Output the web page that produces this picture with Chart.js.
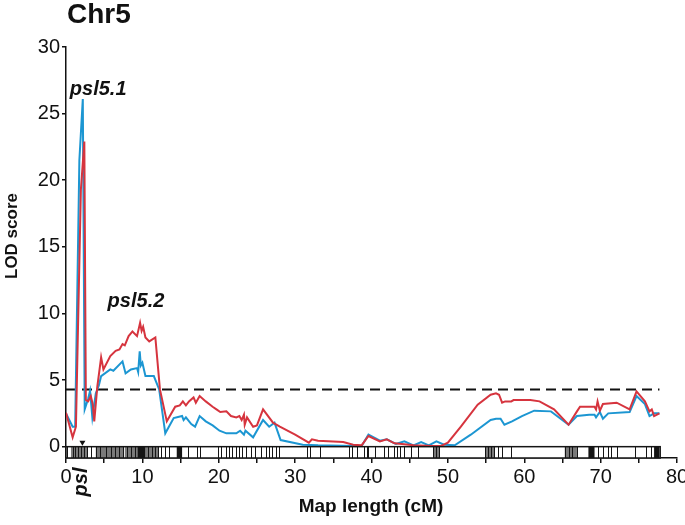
<!DOCTYPE html>
<html>
<head>
<meta charset="utf-8">
<style>
  body { margin: 0; background: #fff; }
  canvas { display: block; }
</style>
</head>
<body>
<canvas id="lodChart" width="685" height="525"></canvas>

<script src="https://cdn.jsdelivr.net/npm/chart.js"></script>
<script>
    // LOD profile, red trait (cM positions and scores)
    const redCM  = [0, 0.87, 1.3, 1.95, 2.4, 2.6, 2.9, 3.25, 3.5, 3.7, 4.1, 4.6, 4.9, 5.8, 6.5, 7.0, 7.4, 7.7, 8.2, 8.7, 9.3, 9.7, 9.9, 10.1, 10.4, 10.9, 11.7,
                    12.3, 13.2, 14.3, 14.9, 15.3, 15.7, 16.1, 16.7, 17.0, 17.5, 18.3, 19.2, 19.7, 20.2, 21.0, 21.6, 22.3, 22.7, 23.0, 23.3, 23.4, 23.7, 24.5, 25.0, 25.8, 27.1, 28.0, 30.0,
                    31.8, 32.2, 33.0, 36.3, 37.6, 38.7, 39.6, 41.1, 42.0, 43.0, 44.0, 45.5, 48.0, 49.1, 50.0, 51.7, 53.9, 55.6, 56.3, 56.7, 57.1, 57.5, 58.3, 58.6, 60.8, 62.0,
                    63.9, 65.8, 66.9, 67.3, 69.2, 69.4, 69.6, 69.9, 70.3, 72.1, 73.8, 74.7, 75.8, 76.4, 76.7, 77.0, 77.7];
    const redLOD = [2.55, 0.7, 1.5, 19.3, 22.9, 3.5, 3.4, 3.8, 3.2, 1.9, 4.5, 6.7, 5.8, 6.8, 7.2, 7.3, 7.7, 7.6, 8.3, 8.65, 8.3, 9.3, 8.7, 9.0, 8.2, 7.9, 8.2,
                    4.3, 1.9, 3.0, 3.1, 3.4, 3.1, 3.4, 3.7, 3.3, 3.8, 3.4, 3.0, 2.8, 2.6, 2.65, 2.3, 2.2, 2.3, 2.0, 2.4, 1.65, 2.2, 1.5, 1.6, 2.8, 1.8, 1.5, 0.9,
                    0.3, 0.55, 0.45, 0.35, 0.15, 0.1, 0.8, 0.4, 0.55, 0.25, 0.2, 0.1, 0.05, 0.05, 0.3, 1.5, 3.15, 3.9, 4.0, 3.9, 3.3, 3.4, 3.4, 3.5, 3.5, 3.4,
                    2.8, 1.65, 2.65, 3.0, 3.0, 2.8, 3.4, 2.7, 3.2, 3.3, 2.8, 4.15, 3.4, 2.65, 2.8, 2.3, 2.5];

    // LOD profile, blue trait
    const blueCM  = [0, 0.87, 1.2, 1.75, 2.2, 2.45, 2.9, 3.15, 3.45, 3.9, 4.3, 4.6, 5.8, 6.2, 7.4, 7.8, 8.5, 9.3, 9.45, 9.65, 9.8, 10.0, 10.4, 11.5,
                     12.2, 13.0, 14.1, 15.2, 15.4, 15.7, 16.4, 16.9, 17.5, 18.3, 19.2, 20.1, 21.0, 22.3, 22.8, 23.3, 23.5, 24.5, 25.8, 26.6, 27.3, 28.1, 31.0, 33.0,
                     37.6, 38.7, 39.6, 41.1, 42.0, 43.2, 44.3, 45.5, 46.5, 47.5, 48.5, 49.5, 50.9, 53.0, 55.6, 56.3, 56.9, 57.4, 58.4, 59.7, 61.3, 63.5,
                     65.8, 66.9, 68.5, 69.2, 69.4, 69.9, 70.3, 71.0, 73.8, 74.7, 75.8, 76.4, 77.0, 77.7];
    const blueLOD = [2.5, 1.5, 1.5, 21.5, 26.1, 2.8, 3.6, 4.2, 2.2, 4.0, 4.6, 5.3, 5.8, 5.7, 6.4, 5.5, 5.8, 5.9, 5.6, 7.15, 6.1, 6.3, 5.3, 5.3,
                     4.3, 1.0, 2.15, 2.3, 2.0, 2.2, 1.7, 1.5, 2.3, 1.9, 1.6, 1.2, 1.0, 1.0, 1.2, 0.9, 1.2, 0.7, 2.0, 1.5, 1.8, 0.5, 0.15, 0.1,
                     0.05, 0.05, 0.9, 0.45, 0.55, 0.2, 0.4, 0.1, 0.35, 0.1, 0.4, 0.15, 0.1, 0.9, 2.0, 2.1, 2.1, 1.65, 1.9, 2.3, 2.7, 2.65,
                     1.65, 2.3, 2.4, 2.4, 2.2, 2.6, 2.1, 2.5, 2.6, 3.8, 3.2, 2.3, 2.5, 2.5];

    // significance threshold
    const threshold = 4.3;
    const thresholdEnd = 77.7;

    // axis ticks
    const yTicks = [0, 5, 10, 15, 20, 25, 30];
    const xMax = 80;

    // genetic map: single markers, dense (grey) and saturated (black) marker blocks
    const markerEnd = 77.8;
    const markers = [0.15, 3.3, 12.5, 13.0, 13.5, 16.0, 17.1, 17.5, 19.9, 20.3, 21.0, 21.4, 21.8, 22.3, 22.7, 23.1, 23.6, 24.2, 24.7,
                     25.5, 26.2, 26.6, 27.0, 27.5, 27.9, 31.6, 32.0, 33.3, 37.0, 37.4, 38.1, 39.0, 39.4, 39.6, 40.5, 41.6, 42.2, 42.9,
                     43.3, 43.7, 44.2, 45.2, 46.1, 56.5, 57.1, 58.2, 69.7, 70.3, 71.0, 71.4, 72.1, 74.5, 76.0, 76.6];
    const greyBlocks = [[0.65, 2.85], [3.9, 7.5], [7.7, 9.35], [10.4, 12.1], [48.1, 48.9], [54.9, 56.1], [65.3, 66.9]];
    const blackBlocks = [[9.35, 10.4], [14.5, 15.2], [68.4, 69.2], [77.0, 77.7]];
    const greyLines = [0.9, 1.2, 1.6, 2.0, 2.4, 2.8, 3.9, 4.5, 5.3, 5.9, 6.4, 7.0, 7.4, 8.0, 8.5, 9.0, 10.8, 11.2, 11.7, 12.1,
                       48.1, 48.5, 48.9, 54.9, 55.3, 55.7, 56.1, 65.3, 65.8, 66.3, 66.9];

    // labels
    const qtlLabels = [
        { text: 'psl5.1', x: 0.5, y: 26.4 },
        { text: 'psl5.2', x: 5.45, y: 10.5 }
    ];
    const pslPos = 2.15;

    const RED = 'rgb(214, 52, 62)';
    const BLUE = 'rgb(28, 150, 210)';
    const FONT = "Arial, 'Liberation Sans', Helvetica, sans-serif";

    Chart.defaults.font.family = FONT;
    Chart.defaults.color = '#111';

    function toPoints(xs, ys) {
        return xs.map((x, i) => ({ x: x, y: ys[i] }));
    }

    // marker bar under the profile + text labels
    const mapPlugin = {
        id: 'mapPlugin',
        afterDatasetsDraw(chart) {
            const ctx = chart.ctx;
            const xs = chart.scales.x, ys = chart.scales.y;
            const top = ys.getPixelForValue(0);
            const bottom = chart.chartArea.bottom;
            const x0 = xs.getPixelForValue(0), x1 = xs.getPixelForValue(markerEnd);

            ctx.save();
            ctx.fillStyle = '#fff';
            ctx.fillRect(x0, top, x1 - x0, bottom - top);
            ctx.fillStyle = '#7a7a7a';
            greyBlocks.forEach(b => {
                const a = xs.getPixelForValue(b[0]), c = xs.getPixelForValue(b[1]);
                ctx.fillRect(a, top, c - a, bottom - top);
            });
            ctx.fillStyle = '#151515';
            blackBlocks.forEach(b => {
                const a = xs.getPixelForValue(b[0]), c = xs.getPixelForValue(b[1]);
                ctx.fillRect(a, top, c - a, bottom - top);
            });
            ctx.strokeStyle = '#151515';
            ctx.lineWidth = 1;
            markers.concat(greyLines).forEach(m => {
                const p = Math.round(xs.getPixelForValue(m)) + 0.5;
                ctx.beginPath();
                ctx.moveTo(p, top);
                ctx.lineTo(p, bottom);
                ctx.stroke();
            });
            ctx.lineWidth = 1.5;
            ctx.strokeRect(x0, top, x1 - x0, bottom - top);

            // psl marker triangle
            const tp = xs.getPixelForValue(pslPos);
            ctx.fillStyle = '#111';
            ctx.beginPath();
            ctx.moveTo(tp - 3, top - 6);
            ctx.lineTo(tp + 3, top - 6);
            ctx.lineTo(tp, top - 1);
            ctx.closePath();
            ctx.fill();

            // QTL names
            ctx.font = 'italic bold 20px ' + FONT;
            ctx.textAlign = 'left';
            ctx.textBaseline = 'alphabetic';
            qtlLabels.forEach(l => {
                ctx.fillText(l.text, xs.getPixelForValue(l.x), ys.getPixelForValue(l.y));
            });

            // rotated psl under the axis
            ctx.save();
            ctx.translate(tp + 5, 482);
            ctx.rotate(-Math.PI / 2);
            ctx.textAlign = 'center';
            ctx.textBaseline = 'alphabetic';
            ctx.fillText('psl', 0, 0);
            ctx.restore();

            // titles
            ctx.font = 'bold 28px ' + FONT;
            ctx.textAlign = 'left';
            ctx.fillText('Chr5', 67, 23);

            ctx.font = 'bold 19px ' + FONT;
            ctx.textAlign = 'center';
            ctx.fillText('Map length (cM)', 371, 512);

            ctx.save();
            ctx.translate(17, 236);
            ctx.rotate(-Math.PI / 2);
            ctx.font = 'bold 17px ' + FONT;
            ctx.fillText('LOD score', 0, 0);
            ctx.restore();

            ctx.restore();
        }
    };

    const chart = new Chart(document.getElementById('lodChart'), {
        type: 'line',
        data: {
            datasets: [
                {
                    label: 'red',
                    data: toPoints(redCM, redLOD),
                    borderColor: RED,
                    borderWidth: 2,
                    pointRadius: 0,
                    tension: 0
                },
                {
                    label: 'blue',
                    data: toPoints(blueCM, blueLOD),
                    borderColor: BLUE,
                    borderWidth: 2,
                    pointRadius: 0,
                    tension: 0
                },
                {
                    label: 'threshold',
                    data: [{ x: 0, y: threshold }, { x: thresholdEnd, y: threshold }],
                    borderColor: '#111',
                    borderWidth: 2,
                    borderDash: [10, 6],
                    pointRadius: 0
                }
            ]
        },
        options: {
            responsive: false,
            animation: false,
            layout: { padding: { left: 0, right: 8, top: 47, bottom: 0 } },
            plugins: {
                legend: { display: false },
                tooltip: { enabled: false }
            },
            scales: {
                x: {
                    type: 'linear',
                    min: 0,
                    max: xMax,
                    afterFit: s => { s.height = 67; s.paddingLeft = 0; s.paddingRight = 0; },
                    ticks: {
                        stepSize: 5,
                        autoSkip: false,
                        maxRotation: 0,
                        padding: 2,
                        font: { size: 20 },
                        color: '#111',
                        callback: v => (v % 10 === 0 ? v : '')
                    },
                    grid: { drawOnChartArea: false, drawTicks: true, tickLength: 5, color: '#111', lineWidth: 1.5 },
                    border: { color: '#111', width: 1.5 }
                },
                y: {
                    min: -0.85,
                    max: 30,
                    afterFit: s => { s.width = 66; s.paddingTop = 0; s.paddingBottom = 0; },
                    afterBuildTicks: s => { s.ticks = yTicks.map(v => ({ value: v })); },
                    ticks: {
                        padding: 2,
                        font: { size: 20 },
                        color: '#111'
                    },
                    grid: { drawOnChartArea: false, drawTicks: true, tickLength: 4, color: '#111', lineWidth: 1.5 },
                    border: { color: '#111', width: 1.5 }
                }
            }
        },
        plugins: [mapPlugin]
    });
</script>
</body>
</html>
